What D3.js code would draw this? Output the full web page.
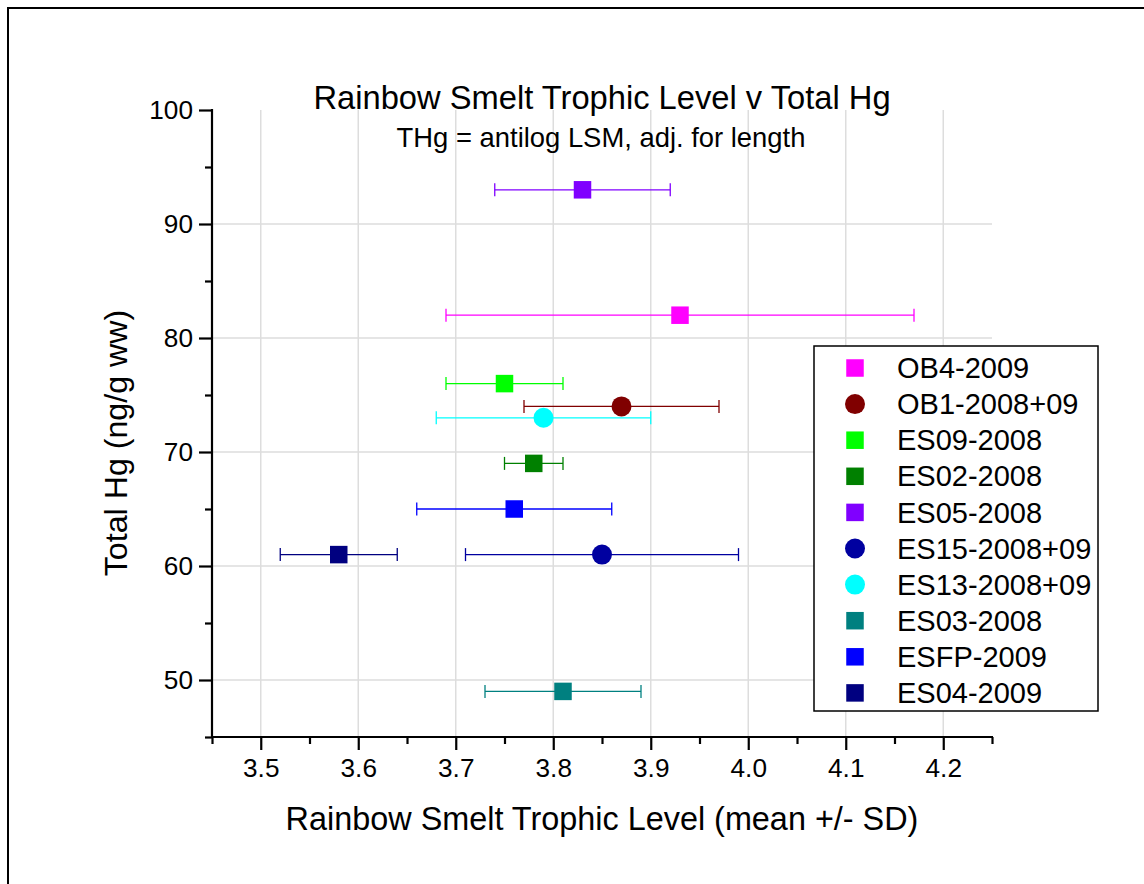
<!DOCTYPE html>
<html>
<head>
<meta charset="utf-8">
<script src="https://cdn.jsdelivr.net/npm/d3@7"></script>
<style>
  html, body { margin: 0; padding: 0; background: #fff; }
  svg { display: block; font-family: Arial, "Liberation Sans", sans-serif; }
</style>
</head>
<body>
<svg id="chart" width="1144" height="884"></svg>
<script>
// ---- data ----
const seriesNames = ["OB4-2009", "OB1-2008+09", "ES09-2008", "ES02-2008", "ES05-2008",
                     "ES15-2008+09", "ES13-2008+09", "ES03-2008", "ESFP-2009", "ES04-2009"];
const trophicMean = [3.93, 3.87, 3.75, 3.78, 3.83, 3.85, 3.79, 3.81, 3.76, 3.58];
const trophicSD   = [0.24, 0.10, 0.06, 0.03, 0.09, 0.14, 0.11, 0.08, 0.10, 0.06];
const totalHg     = [82, 74, 76, 69, 93, 61, 73, 49, 65, 61];
const seriesColors = ["#ff00ff", "#800000", "#00ff00", "#008000", "#8000ff",
                      "#0000a0", "#00ffff", "#008080", "#0000ff", "#000080"];
const seriesShapes = ["square", "circle", "square", "square", "square",
                      "circle", "circle", "square", "square", "square"];
const xMajorTicks = [3.5, 3.6, 3.7, 3.8, 3.9, 4.0, 4.1, 4.2];
const xMinorTicks = [3.45, 3.55, 3.65, 3.75, 3.85, 3.95, 4.05, 4.15, 4.25];
const yMajorTicks = [50, 60, 70, 80, 90, 100];
const yMinorTicks = [45, 55, 65, 75, 85, 95];
const titleText = "Rainbow Smelt Trophic Level v Total Hg";
const subtitleText = "THg = antilog LSM, adj. for length";
const xLabelText = "Rainbow Smelt Trophic Level (mean +/- SD)";
const yLabelText = "Total Hg (ng/g ww)";

const data = seriesNames.map((n, i) => ({
  name: n, x: trophicMean[i], sd: trophicSD[i], y: totalHg[i],
  color: seriesColors[i], shape: seriesShapes[i]
}));

// ---- layout ----
const svg = d3.select("#chart");
const L = 212, R = 992, T = 110, B = 737;
const x = d3.scaleLinear().domain([3.45, 4.25]).range([L, R]);
const y = d3.scaleLinear().domain([45, 100]).range([B, T]);

// outer frame
svg.append("rect").attr("x", 8).attr("y", 8).attr("width", 1200).attr("height", 1000)
  .attr("fill", "none").attr("stroke", "#000").attr("stroke-width", 2);

// grid
const grid = svg.append("g").attr("stroke", "#dddddd").attr("stroke-width", 1.5);
grid.selectAll(".vg").data(xMajorTicks).join("line")
  .attr("x1", d => x(d)).attr("x2", d => x(d)).attr("y1", T).attr("y2", B);
grid.selectAll(".hg").data(yMajorTicks.filter(d => d < 100)).join("line")
  .attr("x1", L).attr("x2", R).attr("y1", d => y(d)).attr("y2", d => y(d));

// axes
const fmt = d3.format(".1f");
const xAxis = svg.append("g").attr("transform", `translate(0,${B})`)
  .call(d3.axisBottom(x).tickValues(xMajorTicks).tickFormat(fmt).tickSize(13).tickPadding(8));
const xMinor = svg.append("g").attr("transform", `translate(0,${B})`)
  .call(d3.axisBottom(x).tickValues(xMinorTicks).tickFormat("").tickSize(7));
const yAxis = svg.append("g").attr("transform", `translate(${L},0)`)
  .call(d3.axisLeft(y).tickValues(yMajorTicks).tickFormat(d3.format("d")).tickSize(13).tickPadding(6));
const yMinor = svg.append("g").attr("transform", `translate(${L},0)`)
  .call(d3.axisLeft(y).tickValues(yMinorTicks).tickFormat("").tickSize(7));

[xAxis, xMinor, yAxis, yMinor].forEach(g => {
  g.select(".domain").remove();
  g.selectAll(".tick line").attr("stroke", "#000").attr("stroke-width", 2.2);
  g.selectAll(".tick text").attr("fill", "#000").attr("font-size", 26.2)
    .attr("font-family", "Arial, 'Liberation Sans', sans-serif");
});
// axis lines
svg.append("line").attr("x1", L).attr("x2", R + 1).attr("y1", B).attr("y2", B)
  .attr("stroke", "#000").attr("stroke-width", 2.2);
svg.append("line").attr("x1", L).attr("x2", L).attr("y1", T - 1).attr("y2", B)
  .attr("stroke", "#000").attr("stroke-width", 2.2);

// titles
svg.append("text").attr("x", 602).attr("y", 109).attr("text-anchor", "middle")
  .attr("font-size", 32.7).text(titleText);
svg.append("text").attr("x", 601).attr("y", 147).attr("text-anchor", "middle")
  .attr("font-size", 27.4).text(subtitleText);
svg.append("text").attr("x", 602).attr("y", 830).attr("text-anchor", "middle")
  .attr("font-size", 32.4).text(xLabelText);
svg.append("text").attr("transform", "translate(127,443) rotate(-90)").attr("text-anchor", "middle")
  .attr("font-size", 32.2).text(yLabelText);

// error bars and markers
const capH = 6.5;
const pts = svg.append("g");
const drawSymbol = (sel, d, cx, cy) => {
  if (d.shape === "square") {
    sel.append("rect").attr("x", cx - 8.75).attr("y", cy - 8.75)
      .attr("width", 17.5).attr("height", 17.5).attr("fill", d.color);
  } else {
    sel.append("circle").attr("cx", cx).attr("cy", cy).attr("r", 10).attr("fill", d.color);
  }
};
data.forEach(d => {
  const g = pts.append("g");
  const cy = y(d.y);
  g.append("line").attr("x1", x(d.x - d.sd)).attr("x2", x(d.x + d.sd))
    .attr("y1", cy).attr("y2", cy).attr("stroke", d.color).attr("stroke-width", 1.3);
  [d.x - d.sd, d.x + d.sd].forEach(v => {
    g.append("line").attr("x1", x(v)).attr("x2", x(v))
      .attr("y1", cy - capH).attr("y2", cy + capH)
      .attr("stroke", d.color).attr("stroke-width", 1.3);
  });
  drawSymbol(g, d, x(d.x), cy);
});

// legend
const lg = svg.append("g");
lg.append("rect").attr("x", 814).attr("y", 346).attr("width", 284).attr("height", 365)
  .attr("fill", "#fff").attr("stroke", "#000").attr("stroke-width", 1.5);
data.forEach((d, i) => {
  const cy = 368 + i * 36.1;
  const g = lg.append("g");
  drawSymbol(g, d, 855, cy);
  g.append("text").attr("x", 897).attr("y", cy).attr("dy", "0.35em")
    .attr("font-size", 29).text(d.name);
});
</script>
</body>
</html>
